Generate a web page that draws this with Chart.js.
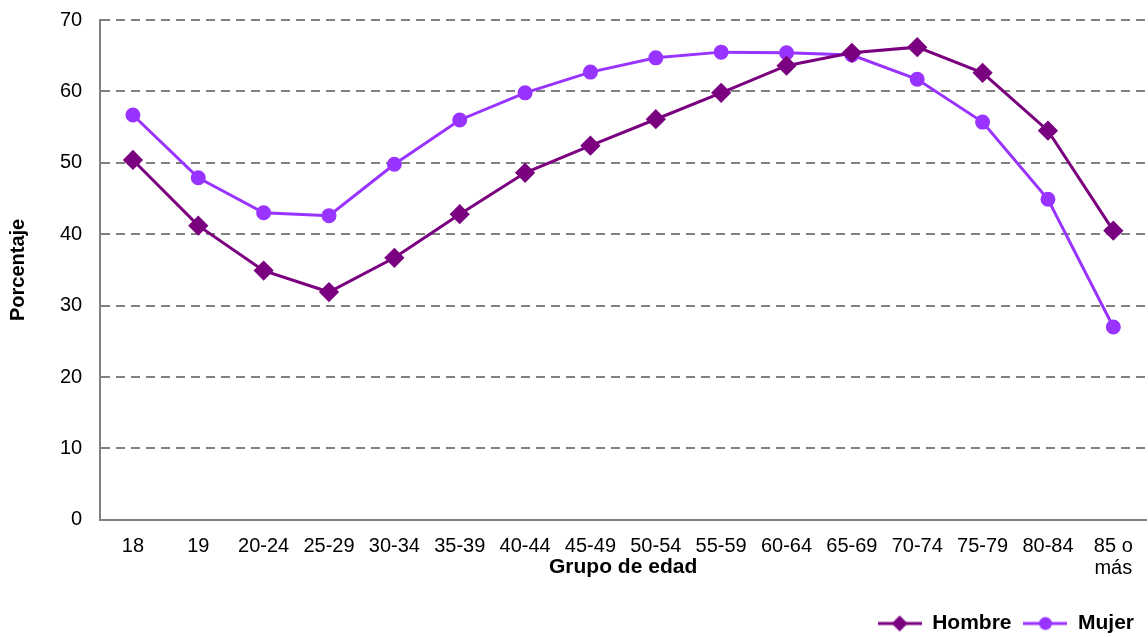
<!DOCTYPE html>
<html>
<head>
<meta charset="utf-8">
<script src="https://cdn.jsdelivr.net/npm/chart.js@4/dist/chart.umd.min.js"></script>
<style>
  html, body { margin: 0; padding: 0; background: #fff; }
  #wrap { width: 1148px; height: 637px; }
</style>
</head>
<body>
<div id="wrap"><canvas id="grafico"></canvas></div>
<script>
// Datos
const grupos = ['18', '19', '20-24', '25-29', '30-34', '35-39', '40-44', '45-49', '50-54',
  '55-59', '60-64', '65-69', '70-74', '75-79', '80-84', ['85 o', 'más']];
const hombre = [50.4, 41.2, 34.9, 31.9, 36.7, 42.8, 48.6, 52.4, 56.1, 59.8, 63.6, 65.4, 66.2, 62.6, 54.5, 40.5];
const mujer  = [56.7, 47.9, 43.0, 42.6, 49.8, 56.0, 59.8, 62.7, 64.7, 65.5, 65.4, 65.1, 61.7, 55.7, 44.9, 27.0];

const colorHombre = '#7a0080';
const colorMujer = '#9933ff';
const fuente = "'Liberation Sans', Arial, sans-serif";

// icono de leyenda: linea con marcador
function iconoLeyenda(color, estilo) {
  const c = document.createElement('canvas');
  c.width = 44; c.height = 18;
  const g = c.getContext('2d');
  g.strokeStyle = color;
  g.lineWidth = 3;
  g.beginPath(); g.moveTo(0, 9); g.lineTo(44, 9); g.stroke();
  g.fillStyle = color;
  g.beginPath();
  if (estilo === 'rombo') {
    g.moveTo(22, 1); g.lineTo(30, 9); g.lineTo(22, 17); g.lineTo(14, 9);
  } else {
    g.arc(22, 9, 6.5, 0, Math.PI * 2);
  }
  g.closePath(); g.fill();
  return c;
}

const iconos = [iconoLeyenda(colorHombre, 'rombo'), iconoLeyenda(colorMujer, 'circulo')];

new Chart(document.getElementById('grafico'), {
  type: 'line',
  data: {
    labels: grupos,
    datasets: [{
      label: 'Hombre',
      data: hombre,
      borderColor: colorHombre,
      backgroundColor: colorHombre,
      borderWidth: 3,
      pointStyle: 'rectRot',
      pointRadius: 8,
      pointHoverRadius: 8,
      tension: 0
    }, {
      label: 'Mujer',
      data: mujer,
      borderColor: colorMujer,
      backgroundColor: colorMujer,
      borderWidth: 3,
      pointStyle: 'circle',
      pointRadius: 6,
      pointHoverRadius: 6,
      tension: 0
    }]
  },
  options: {
    responsive: true,
    maintainAspectRatio: false,
    animation: false,
    layout: { autoPadding: false, padding: { left: 4, right: 2, top: 20, bottom: -7 } },
    plugins: {
      tooltip: { enabled: false },
      legend: {
        position: 'bottom',
        align: 'end',
        labels: {
          usePointStyle: true,
          pointStyleWidth: 44,
          padding: 12,
          color: '#000',
          font: { family: fuente, size: 21, weight: 'bold' },
          generateLabels: chart => chart.data.datasets.map((ds, i) => ({
            text: ds.label,
            pointStyle: iconos[i],
            fillStyle: ds.borderColor,
            strokeStyle: ds.borderColor,
            fontColor: '#000',
            datasetIndex: i
          }))
        }
      }
    },
    scales: {
      x: {
        offset: true,
        afterFit: escala => { escala.paddingLeft = 0; escala.paddingRight = 0; },
        grid: { display: false, drawTicks: true, tickLength: 14, tickColor: 'rgba(0,0,0,0)', offset: true },
        border: { display: true, color: '#808080', width: 2 },
        ticks: { color: '#000', font: { family: fuente, size: 20, lineHeight: 1.1 }, padding: 2, maxRotation: 0, autoSkip: false },
        title: { display: true, text: 'Grupo de edad', color: '#000', font: { family: fuente, size: 21, weight: 'bold' }, padding: { top: -27, bottom: 21 } }
      },
      y: {
        min: 0,
        max: 70,
        ticks: { stepSize: 10, color: '#000', font: { family: fuente, size: 20 }, padding: 2 },
        grid: { color: '#808080', lineWidth: 2, drawTicks: true, tickLength: 16, tickColor: 'rgba(0,0,0,0)' },
        border: { display: true, color: '#808080', width: 2, dash: [9, 6] },
        title: { display: true, text: 'Porcentaje', color: '#000', font: { family: fuente, size: 20, weight: 'bold' }, padding: { top: 2, bottom: 28 } }
      }
    }
  }
});
</script>
</body>
</html>
